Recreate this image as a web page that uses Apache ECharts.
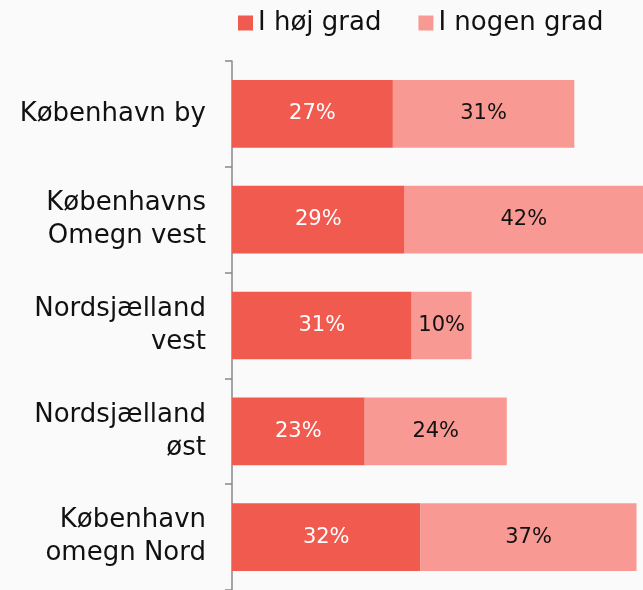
<!DOCTYPE html>
<html>
<head>
<meta charset="utf-8">
<script src="https://cdn.jsdelivr.net/npm/echarts@6/dist/echarts.min.js"></script>
<style>
html,body{margin:0;padding:0;background:#fafafa;}
#c{width:643px;height:590px;}
</style>
</head>
<body>
<div id="c"></div>
<script>
var categories = ['København by', 'Københavns\nOmegn vest', 'Nordsjælland\nvest', 'Nordsjælland\nøst', 'København\nomegn Nord'];
var seriesNames = ['I høj grad', 'I nogen grad'];
var hojGrad = [27.4, 29.4, 30.6, 22.6, 32.1];
var nogenGrad = [30.9, 42, 10.2, 24.2, 36.8];

var chart = echarts.init(document.getElementById('c'), null, {renderer: 'canvas'});
var font = 'DejaVu Sans, Verdana, sans-serif';
function pct(p) { return Math.round(p.value) + '%'; }
chart.setOption({
  backgroundColor: '#fafafa',
  animation: false,
  legend: {
    top: 10, left: 238, padding: 0,
    itemWidth: 15, itemHeight: 15, itemGap: 37,
    icon: 'rect',
    textStyle: {fontFamily: font, fontSize: 26, color: '#111'},
    data: seriesNames
  },
  grid: {left: 232, right: 0, top: 61, bottom: -5, containLabel: false},
  xAxis: {type: 'value', min: 0, max: 70, show: false},
  yAxis: {
    type: 'category', inverse: true, data: categories,
    axisLine: {show: true, lineStyle: {color: '#888', width: 1.5}},
    axisTick: {show: true, length: 7, lineStyle: {color: '#888', width: 1.5}},
    axisLabel: {fontFamily: font, fontSize: 26, color: '#111', margin: 26, lineHeight: 33, align: 'right'}
  },
  series: [
    {name: seriesNames[0], type: 'bar', stack: 'a', barWidth: '64%', data: hojGrad,
     itemStyle: {color: '#F15A4F'},
     label: {show: true, position: 'inside', formatter: pct, fontFamily: font, fontSize: 21, color: '#fff'}},
    {name: seriesNames[1], type: 'bar', stack: 'a', barWidth: '64%', data: nogenGrad,
     itemStyle: {color: '#F89A93'},
     label: {show: true, position: 'inside', formatter: pct, fontFamily: font, fontSize: 21, color: '#111'}}
  ]
});
</script>
</body>
</html>
